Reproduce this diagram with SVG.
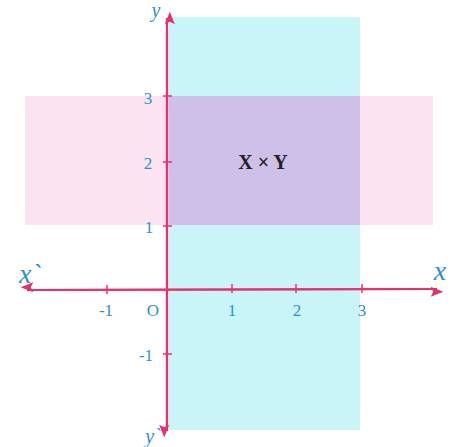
<svg xmlns="http://www.w3.org/2000/svg" width="463" height="447" viewBox="0 0 463 447">
<style>
.ax{stroke:#e8306e;stroke-width:2.2;fill:none}
.tk{stroke:#e8306e;stroke-width:1.5}
.lb{font-family:"Liberation Serif",serif;font-size:17px;fill:#2f8fd3}
.it{font-family:"Liberation Serif",serif;font-style:italic;fill:#2f8fd3}
</style>
<defs>
<marker id="ah" viewBox="0 0 10 10" refX="9" refY="5" markerWidth="7" markerHeight="7" markerUnits="userSpaceOnUse" orient="auto" style="overflow:visible">
<path d="M0,1 L10,5 L0,9 L2,5 Z" fill="#e8306e" transform="scale(1.8)"/>
</marker>
</defs>
<rect width="463" height="447" fill="#ffffff"/>
<g id="regions">
<rect id="xband" x="25" y="96" width="408" height="129" fill="#fbe3f2"/>
<rect id="yband" x="169" y="17" width="191" height="413" fill="#c9f5f8"/>
<rect id="product" x="169" y="96" width="191" height="129" fill="#cfc0e9"/>
</g>
<g id="connectors">
<line class="ax" x1="167" y1="431" x2="167" y2="18" marker-end="url(#ah)"/>
<line class="ax" x1="167" y1="30" x2="167" y2="431" marker-end="url(#ah)"/>
<line class="ax" x1="40" y1="290" x2="437" y2="289" marker-end="url(#ah)"/>
<line class="ax" x1="420" y1="289" x2="27" y2="290" marker-end="url(#ah)"/>
<g class="tk">
<line x1="107" y1="285" x2="107" y2="294"/>
<line x1="232" y1="284" x2="232" y2="293"/>
<line x1="296" y1="284" x2="296" y2="293"/>
<line x1="362" y1="284" x2="362" y2="293"/>
<line x1="163" y1="96" x2="172" y2="96"/>
<line x1="163" y1="162" x2="172" y2="162"/>
<line x1="163" y1="226" x2="172" y2="226"/>
<line x1="163" y1="354" x2="172" y2="354"/>
</g>
</g>
<g id="labels">
<text class="lb" x="148" y="104" text-anchor="middle">3</text>
<text class="lb" x="148" y="169" text-anchor="middle">2</text>
<text class="lb" x="149" y="233" text-anchor="middle">1</text>
<text class="lb" x="146" y="361" text-anchor="middle">-1</text>
<text class="lb" x="106" y="316" text-anchor="middle">-1</text>
<text class="lb" x="153" y="316" text-anchor="middle" font-size="19">O</text>
<text class="lb" x="232" y="316" text-anchor="middle">1</text>
<text class="lb" x="297" y="316" text-anchor="middle">2</text>
<text class="lb" x="362" y="316" text-anchor="middle">3</text>
<text class="it" x="156" y="17" text-anchor="middle" font-size="20">y</text>
<text class="it" x="153" y="443" text-anchor="middle" font-size="20">y`</text>
<text class="it" x="30" y="283" text-anchor="middle" font-size="28">x`</text>
<text class="it" x="440" y="280" text-anchor="middle" font-size="28">x</text>
<text x="263" y="169" text-anchor="middle" font-family="Liberation Serif, serif" font-size="20" font-weight="bold" fill="#222222">X × Y</text>
</g>
</svg>
